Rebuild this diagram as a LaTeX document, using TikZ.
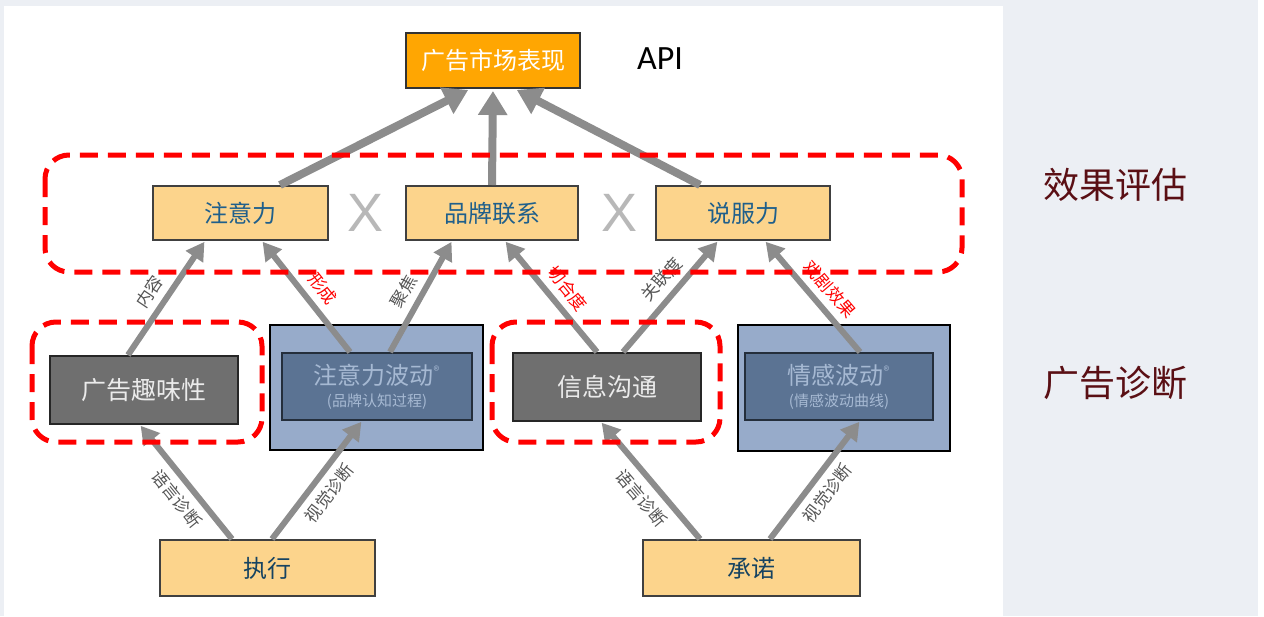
\documentclass[tikz,border=0pt]{standalone}
\usepackage{fontspec}
\setmainfont{Noto Sans CJK SC}
\newfontfamily\apifont{Carlito}
\newfontfamily\xfont{Liberation Sans}
\usetikzlibrary{arrows.meta}
\definecolor{bgray}{HTML}{ECEFF4}
\definecolor{orangeA}{HTML}{FFA602}
\definecolor{lorange}{HTML}{FCD48C}
\definecolor{tblue}{HTML}{1F5F8B}
\definecolor{dgray}{HTML}{6F6F6F}
\definecolor{bluel}{HTML}{97ABCA}
\definecolor{blued}{HTML}{5B7393}
\definecolor{btext}{HTML}{A6B9D3}
\definecolor{agray}{HTML}{8C8C8C}
\definecolor{labgray}{HTML}{555555}
\definecolor{dred}{HTML}{5A0F14}
\definecolor{redd}{HTML}{FF0000}
\tikzset{
  fs/.style={font=\fontsize{#1}{#1}\selectfont},
  obox/.style={draw=black!80, line width=1pt, fill=orangeA, text=white, inner sep=0pt, fs=12},
  lbox/.style={draw=black!75, line width=1pt, fill=lorange, text=tblue, inner sep=0pt, fs=12},
  gbox/.style={draw=black!85, line width=1pt, fill=dgray, text=white!92!black, inner sep=0pt, fs=12.5},
  bout/.style={draw=black, line width=1pt, fill=bluel, inner sep=0pt},
  bin/.style={draw=black!60!blued, line width=1pt, fill=blued, text=btext, inner sep=0pt, align=center},
  bigarrow/.style={draw=agray, line width=4pt, -{Triangle[length=12pt,width=14pt]}, shorten >=1pt},
  arr/.style={draw=agray, line width=3pt, -{Triangle[length=9pt,width=10pt]}, shorten >=0.5pt},
  lab/.style={fs=8.5, text=labgray, sloped, inner sep=0.5pt},
  rlab/.style={lab, text=redd},
  reddash/.style={draw=redd, line width=2.5pt, dash pattern=on 9pt off 5pt, rounded corners=12pt},
  sidelab/.style={text=dred, fs=18},
  xmark/.style={text=black!28, font=\xfont\fontsize{27}{27}\selectfont, inner sep=0pt}
}
\begin{document}
\begin{tikzpicture}[x=0.5pt,y=-0.5pt]
\useasboundingbox (0,0) rectangle (1264,616);
\fill[bgray] (0,0) rectangle (1264,616);
\fill[white] (4,6) rectangle (1003,616);
\fill[white] (1258,0) rectangle (1264,616);

% top
\node[obox, minimum width=87pt, minimum height=27.5pt] (top) at (493,60.5) {广告市场表现};
\node[font=\apifont\fontsize{17}{17}\selectfont, inner sep=0pt] (api) at (660,59) {API};

% effect row
\node[lbox, minimum width=87.5pt, minimum height=27pt] (att) at (240.5,213) {注意力};
\node[lbox, minimum width=86pt, minimum height=27pt] (brand) at (492,213) {品牌联系};
\node[lbox, minimum width=87pt, minimum height=27pt] (pers) at (743,213) {说服力};
\node[xmark] (x1) at (366,213) {X};
\node[xmark] (x2) at (620,213) {X};

% diagnosis row
\node[gbox, minimum width=94pt, minimum height=34pt] (qw) at (144,390) {广告趣味性};
\node[bout, minimum width=106.5pt, minimum height=62.5pt] (zyl) at (376.5,387.5) {};
\node[bin, minimum width=95pt, minimum height=33.5pt] (zylin) at (377,386.5)
  {{\fontsize{12}{13}\selectfont 注意力波动\textsuperscript{\fontsize{6}{6}\selectfont ®}}\\[-1pt]{\fontsize{7.5}{8}\selectfont (品牌认知过程)}};
\node[gbox, minimum width=94pt, minimum height=34pt] (xx) at (607,387) {信息沟通};
\node[bout, minimum width=106pt, minimum height=63pt] (qg) at (844,388) {};
\node[bin, minimum width=94pt, minimum height=33.5pt] (qgin) at (839,386.5)
  {{\fontsize{12}{13}\selectfont 情感波动\textsuperscript{\fontsize{6}{6}\selectfont ®}}\\[-1pt]{\fontsize{7.5}{8}\selectfont (情感波动曲线)}};

% bottom row
\node[lbox, text=tblue!70!black, minimum width=107.5pt, minimum height=28pt] (zx) at (267.5,568) {执行};
\node[lbox, text=tblue!70!black, minimum width=108.5pt, minimum height=28pt] (cn) at (751.5,568) {承诺};

% top arrows
\draw[bigarrow] ([xshift=19.75pt]att.north) -- ([xshift=-11.5pt]top.south);
\draw[bigarrow] (brand.north) -- (top.south);
\draw[bigarrow] ([xshift=-21.5pt]pers.north) -- ([xshift=11pt]top.south);

% diagnosis -> effect
\draw[arr] ([xshift=-8pt]qw.north) -- node[lab, pos=0.47, above=3pt] {内容} ([xshift=-17.75pt]att.south);
\draw[arr] ([xshift=-13.5pt]zylin.north) -- node[rlab, pos=0.47, above=3pt] {形成} ([xshift=10.75pt]att.south);
\draw[arr] ([xshift=6.5pt]zylin.north) -- node[lab, pos=0.47, above=3pt] {聚焦} ([xshift=-20pt]brand.south);
\draw[arr] ([xshift=-5pt]xx.north) -- node[rlab, pos=0.47, above=3pt] {切合度} ([xshift=6.5pt]brand.south);
\draw[arr] ([xshift=8pt]xx.north) -- node[lab, pos=0.55, above=3pt] {关联度} ([xshift=-12.5pt]pers.south);
\draw[arr] ([xshift=10.5pt]qgin.north) -- node[rlab, pos=0.46, above=3pt] {戏剧效果} ([xshift=11pt]pers.south);

% execution -> diagnosis
\draw[arr] ([xshift=-17.75pt]zx.north) -- node[lab, pos=0.45, below=3pt] {语言诊断} ([xshift=-2pt]qw.south);
\draw[arr] ([xshift=2.25pt]zx.north) -- node[lab, pos=0.48, below=3pt] {视觉诊断} ([xshift=-7.5pt]zylin.south);
\draw[arr] ([xshift=-25.75pt]cn.north) -- node[lab, pos=0.45, below=3pt] {语言诊断} ([xshift=-3pt]xx.south);
\draw[arr] ([xshift=9.25pt]cn.north) -- node[lab, pos=0.48, below=3pt] {视觉诊断} ([xshift=10.5pt]qgin.south);

% red dashed groups
\draw[reddash] (45,155) rectangle (962,272);
\draw[reddash] (32,322) rectangle (262,442);
\draw[reddash] (492,322) rectangle (720,442);

% side labels
\node[sidelab] (eff) at (1115,185) {效果评估};
\node[sidelab] (diag) at (1115,383) {广告诊断};
\end{tikzpicture}
\end{document}
